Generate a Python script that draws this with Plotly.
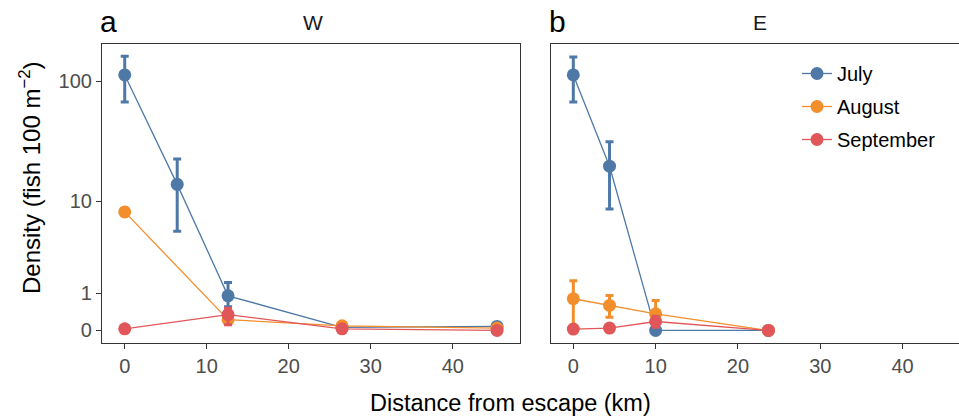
import numpy as np
import plotly.graph_objects as go

# ---------------- data (density, fish 100 m^-2) ----------------
months = ["July", "August", "September"]
colors = {"July": "#4E79A7", "August": "#F28E2B", "September": "#E15759"}

# Panel W
w_july_dist = [0.0, 6.4, 12.6, 26.5, 45.4]
w_july_mean = [113.0, 14.0, 0.90, 0.06, 0.077]
w_july_lo = [68.0, 5.3, 0.55, 0.06, 0.077]
w_july_hi = [160.0, 23.0, 1.43, 0.06, 0.077]

w_aug_dist = [0.0, 12.6, 26.5, 45.4]
w_aug_mean = [8.0, 0.22, 0.09, 0.045]
w_aug_lo = [8.0, 0.16, 0.09, 0.045]
w_aug_hi = [8.0, 0.30, 0.09, 0.045]

w_sep_dist = [0.0, 12.6, 26.5, 45.4]
w_sep_mean = [0.03, 0.34, 0.03, 0.0]
w_sep_lo = [0.03, 0.11, 0.03, 0.0]
w_sep_hi = [0.03, 0.51, 0.03, 0.0]

# Panel E
e_july_dist = [0.0, 4.4, 10.0, 23.7]
e_july_mean = [113.0, 20.0, 0.0, 0.0]
e_july_lo = [68.0, 8.5, 0.0, 0.0]
e_july_hi = [158.0, 32.0, 0.0, 0.0]

e_aug_dist = [0.0, 4.4, 10.0, 23.7]
e_aug_mean = [0.80, 0.59, 0.36, 0.0]
e_aug_lo = [0.05, 0.28, 0.15, 0.0]
e_aug_hi = [1.51, 0.91, 0.74, 0.0]

e_sep_dist = [0.0, 4.4, 10.0, 23.7]
e_sep_mean = [0.025, 0.045, 0.18, 0.0]
e_sep_lo = [0.025, 0.045, 0.06, 0.0]
e_sep_hi = [0.025, 0.045, 0.30, 0.0]

y_tick_vals = [0, 1, 10, 100]
x_tick_vals = [0, 10, 20, 30, 40]

panels = {
    "W": {
        "July": (w_july_dist, w_july_mean, w_july_lo, w_july_hi),
        "August": (w_aug_dist, w_aug_mean, w_aug_lo, w_aug_hi),
        "September": (w_sep_dist, w_sep_mean, w_sep_lo, w_sep_hi),
    },
    "E": {
        "July": (e_july_dist, e_july_mean, e_july_lo, e_july_hi),
        "August": (e_aug_dist, e_aug_mean, e_aug_lo, e_aug_hi),
        "September": (e_sep_dist, e_sep_mean, e_sep_lo, e_sep_hi),
    },
}


def tr(v):
    return np.log10(np.asarray(v, dtype=float) + 1.0)


W, H = 959, 416
ml, mr, mt, mb = 102, 0, 44, 73
pw = W - ml - mr
ph = H - mt - mb

def px_x(p):
    return (p - ml) / pw

def px_y(p):
    return (H - mb - p) / ph

fig = go.Figure()

axes = {"W": ("x", "y"), "E": ("x2", "y2")}
for pname, series in panels.items():
    xa, ya = axes[pname]
    for m in months:
        d, mean, lo, hi = series[m]
        ty = tr(mean)
        plus = tr(hi) - ty
        minus = ty - tr(lo)
        fig.add_trace(go.Scatter(
            x=d, y=ty, xaxis=xa, yaxis=ya,
            mode="lines+markers", name=m,
            showlegend=(pname == "E"), legendgroup=m,
            line=dict(color=colors[m], width=1.3),
            marker=dict(color=colors[m], size=13),
            error_y=dict(type="data", symmetric=False, array=plus, arrayminus=minus,
                         color=colors[m], thickness=3, width=4),
        ))

FONT = "Liberation Sans, Arial, sans-serif"
tick_font = dict(family=FONT, size=20, color="#4D4D4D")
axis_common = dict(showgrid=False, zeroline=False, showline=True, mirror=True,
                   linecolor="#333333", linewidth=1.2, ticks="outside", ticklen=5,
                   tickcolor="#333333", tickwidth=1.2, tickfont=tick_font)

yr = [-0.101, 2.306]
fig.update_layout(
    width=W, height=H,
    margin=dict(l=ml, r=mr, t=mt, b=mb),
    plot_bgcolor="white", paper_bgcolor="white",
    font=dict(family=FONT, color="black"),
    xaxis=dict(domain=[0, px_x(520)], range=[-2.77, 48.2], tickvals=x_tick_vals, **axis_common),
    xaxis2=dict(domain=[px_x(551), 1], range=[-2.71, 46.85], tickvals=x_tick_vals, **axis_common),
    yaxis=dict(range=yr, tickvals=list(tr(y_tick_vals)), ticktext=[str(v) for v in y_tick_vals],
               **axis_common),
    yaxis2=dict(range=yr, anchor="x2", tickvals=list(tr(y_tick_vals)), showticklabels=False,
                **{k: v for k, v in axis_common.items() if k not in ("ticks",)}, ticks=""),
    legend=dict(x=px_x(797), y=px_y(54), xanchor="left", yanchor="top",
                font=dict(size=20, color="black", family=FONT), bgcolor="rgba(0,0,0,0)",
                itemwidth=30, tracegroupgap=4),
)

fig.add_annotation(text="a", x=px_x(98), y=px_y(21), xref="paper", yref="paper",
                   showarrow=False, xanchor="left", yanchor="middle",
                   font=dict(size=30, color="black", family=FONT))
fig.add_annotation(text="b", x=px_x(547), y=px_y(21), xref="paper", yref="paper",
                   showarrow=False, xanchor="left", yanchor="middle",
                   font=dict(size=30, color="black", family=FONT))
fig.add_annotation(text="W", x=px_x(313), y=px_y(22), xref="paper", yref="paper",
                   showarrow=False, xanchor="center", yanchor="middle",
                   font=dict(size=21, color="#1A1A1A", family=FONT))
fig.add_annotation(text="E", x=px_x(760), y=px_y(22), xref="paper", yref="paper",
                   showarrow=False, xanchor="center", yanchor="middle",
                   font=dict(size=21, color="#1A1A1A", family=FONT))
fig.add_annotation(text="Distance from escape (km)", x=px_x(510), y=px_y(403),
                   xref="paper", yref="paper", showarrow=False,
                   xanchor="center", yanchor="middle",
                   font=dict(size=23.5, color="black", family=FONT))
fig.add_annotation(text="Density (fish 100 m<sup>−2</sup>)", x=px_x(30), y=px_y(178),
                   xref="paper", yref="paper", showarrow=False, textangle=-90,
                   xanchor="center", yanchor="middle",
                   font=dict(size=24, color="black", family=FONT))

fig.write_html("out.html", config={"displayModeBar": False},
               post_script="document.body.style.margin='0px';document.body.style.overflow='hidden';")
